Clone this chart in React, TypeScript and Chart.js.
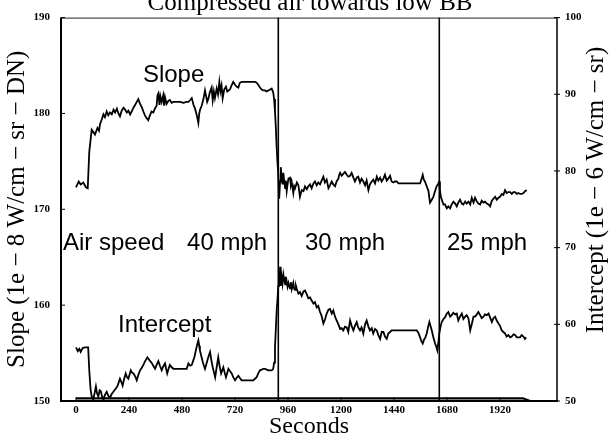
import React, { useEffect, useRef } from "react";
import { Chart, registerables } from "chart.js";

Chart.register(...registerables);

// ---------------- data ----------------
const slopeSeconds = [
  0, 12, 21, 33, 45, 53, 60, 71, 80, 86, 97, 104, 109, 117, 124, 131, 139, 146, 154, 162,
  170, 177, 185, 192, 199, 207, 215, 222, 230, 237, 245, 252, 260, 268, 275, 282, 290, 297, 305, 312,
  320, 327, 335, 342, 350, 357, 365, 369, 373, 378, 382, 388, 395, 399, 403, 410, 418, 425, 433, 441,
  456, 471, 486, 501, 509, 517, 524, 532, 539, 547, 554, 558, 562, 569, 577, 584, 590, 594, 599, 606,
  614, 619, 624, 629, 637, 643, 649, 654, 659, 664, 671, 679, 685, 691, 697, 704, 712, 720, 727, 735,
  742, 750, 765, 780, 795, 810, 818, 825, 833, 841, 848, 856, 863, 871, 879, 886, 893, 897, 901, 905,
  908, 912, 916, 920, 924, 927, 931, 935, 939, 943, 947, 950, 954, 958, 962, 969, 973, 977, 984, 988,
  992, 1000, 1007, 1014, 1022, 1030, 1037, 1045, 1052, 1060, 1067, 1075, 1082, 1090, 1097, 1105, 1112, 1120, 1127, 1135,
  1143, 1150, 1158, 1165, 1173, 1180, 1188, 1192, 1196, 1203, 1210, 1218, 1226, 1233, 1241, 1248, 1256, 1263, 1271, 1278,
  1286, 1293, 1301, 1309, 1316, 1324, 1331, 1339, 1346, 1354, 1362, 1369, 1377, 1384, 1392, 1399, 1407, 1414, 1422, 1429,
  1437, 1444, 1452, 1460, 1475, 1490, 1505, 1520, 1535, 1550, 1558, 1565, 1570, 1575, 1580, 1588, 1596, 1600, 1603, 1611,
  1618, 1626, 1633, 1641, 1645, 1648, 1652, 1658, 1664, 1671, 1679, 1686, 1694, 1701, 1709, 1717, 1724, 1731, 1739, 1747,
  1754, 1762, 1769, 1777, 1785, 1792, 1800, 1807, 1815, 1822, 1830, 1837, 1845, 1852, 1860, 1868, 1875, 1883, 1890, 1898,
  1905, 1913, 1920, 1928, 1935, 1943, 1950, 1958, 1966, 1973, 1981, 1988, 1996, 2003, 2011, 2018, 2026, 2033, 2041,
];
const slopeValues = [
  172.3, 172.9, 172.6, 172.8, 172.3, 172.2, 176.0, 178.3, 178.0, 177.8, 178.5, 178.2, 178.9, 179.4, 179.9, 179.6, 180.2, 179.8, 180.1, 179.9,
  180.4, 180.1, 180.5, 180.0, 179.7, 180.3, 180.6, 180.4, 180.1, 180.3, 179.9, 180.2, 180.6, 180.9, 181.2, 181.5, 181.0, 180.7, 180.2, 179.8,
  179.5, 179.3, 179.8, 180.2, 180.1, 180.5, 180.8, 181.9, 182.1, 180.9, 181.8, 181.2, 181.9, 180.8, 181.7, 181.0, 181.3, 181.4, 181.1, 181.2,
  181.2, 181.2, 181.1, 181.2, 181.2, 181.4, 181.6, 180.9, 180.5, 179.8, 179.0, 180.0, 180.4, 180.8, 181.5, 182.4, 181.7, 181.2, 181.5, 182.2,
  182.7, 181.4, 182.3, 181.6, 182.6, 182.0, 183.3, 182.3, 182.9, 181.6, 182.5, 182.8, 182.3, 182.4, 182.5, 182.9, 183.3, 183.0, 182.8, 182.7,
  183.2, 183.3, 183.3, 183.3, 183.3, 183.3, 183.2, 183.0, 182.7, 182.5, 182.4, 182.4, 182.3, 182.4, 182.5, 182.6, 182.2, 181.5, 180.2, 178.5,
  176.7, 175.0, 173.6, 171.1, 172.9, 174.4, 173.5, 172.6, 173.8, 172.8, 172.2, 173.0, 171.9, 172.6, 173.2, 173.3, 172.5, 172.8, 171.7, 172.4,
  172.2, 172.8, 172.5, 171.3, 172.0, 171.9, 172.4, 172.1, 172.4, 172.6, 172.2, 172.7, 172.9, 172.5, 172.8, 172.6, 173.0, 173.4, 172.8, 173.1,
  172.2, 172.5, 172.9, 172.6, 172.4, 172.9, 173.2, 173.6, 173.8, 173.5, 173.7, 173.9, 173.6, 173.4, 173.5, 173.8, 173.3, 172.9, 173.3, 173.4,
  172.8, 173.2, 172.9, 172.5, 173.0, 172.0, 172.6, 172.9, 173.1, 172.7, 173.4, 173.0, 173.3, 172.9, 173.2, 173.6, 173.0, 173.2, 173.5, 172.9,
  172.8, 172.9, 172.9, 172.7, 172.7, 172.7, 172.7, 172.7, 172.7, 172.7, 172.7, 173.2, 173.6, 173.1, 172.9, 172.4, 171.9, 171.2, 170.7, 171.0,
  171.3, 171.9, 172.4, 172.7, 172.9, 172.0, 171.3, 170.9, 170.5, 170.5, 170.1, 170.3, 170.1, 170.5, 170.8, 170.6, 170.3, 170.7, 171.0, 170.6,
  170.5, 170.8, 170.6, 170.8, 170.5, 171.2, 170.7, 171.2, 170.8, 170.6, 170.5, 170.9, 170.7, 170.8, 170.6, 170.5, 170.3, 170.9, 171.1, 171.3,
  171.0, 171.2, 171.3, 171.6, 171.5, 172.0, 171.7, 171.8, 171.8, 171.6, 171.8, 171.8, 171.6, 171.7, 171.6, 171.6, 171.7, 171.9, 172.0,
];

const interceptSeconds = [
  0, 8, 15, 21, 30, 40, 48, 55, 60, 66, 71, 78, 84, 90, 95, 101, 107, 112, 118, 124,
  131, 139, 146, 154, 161, 169, 177, 187, 193, 199, 205, 211, 218, 225, 231, 237, 243, 248, 254, 260,
  268, 275, 282, 290, 297, 305, 313, 323, 333, 342, 350, 358, 365, 373, 380, 388, 395, 403, 408, 413,
  419, 425, 433, 441, 456, 471, 486, 501, 509, 517, 524, 530, 536, 541, 546, 550, 554, 558, 561, 567,
  573, 579, 584, 590, 596, 601, 607, 613, 619, 625, 630, 637, 644, 650, 657, 662, 667, 673, 679, 685,
  690, 697, 705, 712, 720, 727, 735, 742, 750, 765, 780, 795, 803, 810, 818, 825, 833, 841, 848, 856,
  863, 871, 879, 886, 893, 897, 901, 905, 909, 912, 916, 919, 922, 924, 927, 931, 935, 939, 943, 947,
  950, 954, 958, 962, 969, 973, 977, 984, 988, 992, 996, 1000, 1007, 1014, 1022, 1030, 1037, 1045, 1052, 1060,
  1067, 1075, 1082, 1090, 1097, 1105, 1112, 1120, 1127, 1135, 1143, 1150, 1158, 1165, 1173, 1180, 1188, 1196, 1203, 1210,
  1218, 1226, 1233, 1241, 1248, 1256, 1263, 1271, 1278, 1286, 1293, 1301, 1309, 1316, 1324, 1331, 1339, 1346, 1354, 1362,
  1369, 1377, 1384, 1392, 1399, 1407, 1414, 1422, 1429, 1437, 1452, 1467, 1482, 1498, 1513, 1528, 1543, 1550, 1558, 1564,
  1570, 1576, 1582, 1588, 1594, 1600, 1605, 1611, 1618, 1626, 1631, 1636, 1641, 1645, 1650, 1656, 1664, 1671, 1679, 1686,
  1694, 1701, 1709, 1717, 1724, 1731, 1739, 1747, 1754, 1762, 1769, 1777, 1785, 1792, 1800, 1807, 1815, 1822, 1830, 1837,
  1845, 1852, 1860, 1868, 1875, 1883, 1890, 1898, 1905, 1913, 1920, 1928, 1935, 1943, 1950, 1958, 1966, 1973, 1981, 1988,
  1996, 2003, 2011, 2018, 2026, 2033, 2038,
];
const interceptValues = [
  57.0, 56.5, 56.8, 56.4, 56.9, 57.0, 57.0, 57.0, 54.0, 51.5, 50.6, 50.2, 51.0, 51.9, 51.0, 50.6, 51.4, 51.3, 50.6, 50.2,
  50.8, 51.2, 50.7, 50.4, 50.9, 51.2, 51.5, 51.9, 52.4, 52.9, 52.5, 52.0, 52.9, 53.6, 53.1, 52.9, 53.5, 54.0, 53.7, 53.6,
  53.2, 52.7, 53.4, 54.0, 54.3, 54.7, 55.2, 55.7, 55.3, 55.0, 54.6, 54.2, 54.7, 55.2, 54.6, 54.0, 54.5, 54.9, 54.2, 53.6,
  54.2, 54.7, 54.4, 54.2, 54.2, 54.2, 54.2, 54.2, 54.9, 54.6, 54.7, 55.2, 55.7, 56.4, 57.0, 57.5, 57.9, 57.2, 56.6, 55.9,
  55.2, 54.6, 54.2, 54.8, 55.4, 55.9, 56.4, 55.3, 54.4, 53.7, 53.1, 54.4, 55.7, 54.6, 53.6, 54.0, 54.4, 53.7, 53.1, 53.7,
  54.2, 53.9, 53.6, 53.1, 52.7, 53.0, 53.3, 53.0, 52.7, 52.7, 52.7, 52.7, 52.7, 52.9, 53.1, 53.6, 54.0, 54.1, 54.2, 54.2,
  54.1, 54.0, 54.0, 54.0, 54.2, 55.0, 57.0, 59.5, 62.0, 63.1, 65.0, 66.3, 65.4, 67.5, 65.0, 66.2, 65.3, 66.5, 65.8, 65.2,
  66.2, 65.6, 64.9, 65.4, 64.7, 65.5, 64.6, 65.4, 64.6, 64.5, 65.0, 64.6, 64.0, 64.2, 63.7, 64.3, 64.4, 63.9, 63.4, 63.5,
  63.1, 62.7, 62.9, 62.2, 62.4, 61.6, 61.1, 60.1, 60.6, 61.4, 61.9, 62.0, 61.4, 61.8, 61.0, 60.5, 60.0, 59.4, 59.5, 59.2,
  59.7, 59.6, 59.0, 60.5, 59.8, 59.2, 59.8, 60.3, 59.6, 59.2, 59.6, 58.8, 60.0, 60.5, 59.7, 59.2, 59.5, 58.8, 59.4, 59.2,
  58.6, 58.1, 59.0, 59.0, 58.4, 58.1, 58.8, 59.0, 59.2, 59.2, 59.2, 59.2, 59.2, 59.2, 59.2, 59.2, 59.2, 58.9, 58.3, 57.8,
  57.5, 58.0, 58.3, 58.8, 59.6, 60.3, 59.8, 59.2, 58.3, 57.5, 57.1, 56.6, 57.7, 58.8, 59.6, 60.3, 60.7, 60.9, 61.4, 61.6,
  61.0, 61.2, 61.5, 61.3, 61.4, 60.5, 61.0, 61.4, 60.7, 61.0, 61.2, 60.8, 59.2, 60.0, 61.0, 61.0, 61.3, 61.6, 61.2, 60.8,
  61.0, 61.3, 61.2, 61.4, 60.9, 60.3, 60.8, 61.0, 60.5, 60.1, 59.8, 59.2, 59.0, 58.8, 58.4, 58.6, 58.3, 58.4, 58.7, 58.6,
  58.3, 58.3, 58.3, 58.6, 58.4, 58.1, 58.3,
];

const baselineSeconds = [0, 2024, 2056];
const baselineValues = [50.35, 50.35, 50.0];

const speedChangeSeconds = [916, 1645];

const xTickValues = [0, 240, 480, 720, 960, 1200, 1440, 1680, 1920];
const slopeTickValues = [150, 160, 170, 180, 190];
const interceptTickValues = [50, 60, 70, 80, 90, 100];

const chartTitle = "Compressed air towards low BB";
const xTitle = "Seconds";
const slopeTitle = "Slope (1e \u2212 8 W/cm \u2212 sr \u2212 DN)";
const interceptTitle = "Intercept (1e \u2212 6 W/cm \u2212 sr)";

// annotation labels in data coordinates (x seconds, y on slope axis, baseline)
const labelTexts = ["Slope", "Intercept", "Air speed", "40 mph", "30 mph", "25 mph"];
const labelSeconds = [303, 190, -59, 503, 1037, 1680];
const labelSlopeLevels = [183.3, 157.2, 165.75, 165.75, 165.75, 165.75];

const SERIF = "'Liberation Serif', 'Times New Roman', serif";
const SANS = "'Liberation Sans', Arial, sans-serif";

const decorPlugin = {
  id: "decor",
  afterDatasetsDraw(chart: any) {
    const { ctx, chartArea, scales } = chart;
    const xs = scales.x;
    const yl = scales.y;
    const yr = scales.y2;
    const { left, right, top, bottom } = chartArea;
    ctx.save();
    ctx.strokeStyle = "#000";
    ctx.lineCap = "butt";

    // speed change lines
    ctx.lineWidth = 1.6;
    speedChangeSeconds.forEach((s) => {
      const px = xs.getPixelForValue(s);
      ctx.beginPath();
      ctx.moveTo(px, top);
      ctx.lineTo(px, bottom);
      ctx.stroke();
    });

    // frame
    ctx.lineWidth = 1;
    ctx.strokeStyle = "#222";
    ctx.beginPath();
    ctx.moveTo(left, top + 0.5);
    ctx.lineTo(right, top + 0.5);
    ctx.stroke();
    ctx.strokeStyle = "#000";
    ctx.lineWidth = 2;
    ctx.beginPath();
    ctx.moveTo(left, top);
    ctx.lineTo(left, bottom + 1);
    ctx.stroke();
    ctx.lineWidth = 1.5;
    ctx.beginPath();
    ctx.moveTo(right, top);
    ctx.lineTo(right, bottom + 1);
    ctx.stroke();
    ctx.lineWidth = 1.8;
    ctx.beginPath();
    ctx.moveTo(left - 1, bottom);
    ctx.lineTo(right + 1, bottom);
    ctx.stroke();

    // inward tick marks
    ctx.lineWidth = 1;
    xTickValues.forEach((v) => {
      const px = xs.getPixelForValue(v);
      ctx.beginPath();
      ctx.moveTo(px, bottom);
      ctx.lineTo(px, bottom - 4);
      ctx.stroke();
    });
    slopeTickValues.forEach((v) => {
      const py = yl.getPixelForValue(v);
      ctx.beginPath();
      ctx.moveTo(left, py);
      ctx.lineTo(left + 4, py);
      ctx.stroke();
    });
    interceptTickValues.forEach((v) => {
      const py = yr.getPixelForValue(v);
      ctx.beginPath();
      ctx.moveTo(right - 3, py);
      ctx.lineTo(right + 3, py);
      ctx.stroke();
    });

    // annotations
    ctx.fillStyle = "#000";
    ctx.font = `24px ${SANS}`;
    ctx.textAlign = "left";
    ctx.textBaseline = "alphabetic";
    labelTexts.forEach((t, i) => {
      ctx.fillText(t, xs.getPixelForValue(labelSeconds[i]), yl.getPixelForValue(labelSlopeLevels[i]));
    });

    // chart title (partly cut at top)
    ctx.font = `25px ${SERIF}`;
    ctx.textAlign = "center";
    ctx.fillText(chartTitle, (left + right) / 2 + 1, 10);

    // right axis title, reading bottom-to-top
    ctx.save();
    ctx.translate(596, 190);
    ctx.rotate(-Math.PI / 2);
    ctx.textBaseline = "middle";
    ctx.font = `25px ${SERIF}`;
    ctx.fillText(interceptTitle, 0, 0);
    ctx.restore();

    ctx.restore();
  },
};

export default function App() {
  const canvasRef = useRef<HTMLCanvasElement | null>(null);

  useEffect(() => {
    const canvas = canvasRef.current;
    if (!canvas) return;
    const tickFont = { family: SERIF, size: 11, weight: "bold" as const };
    const chart = new Chart(canvas, {
      type: "line",
      data: {
        datasets: [
          {
            label: "Slope",
            data: slopeSeconds.map((s, i) => ({ x: s, y: slopeValues[i] })),
            yAxisID: "y",
            borderColor: "#000",
            borderWidth: 1.8,
            pointRadius: 0,
            tension: 0,
          },
          {
            label: "Intercept",
            data: interceptSeconds.map((s, i) => ({ x: s, y: interceptValues[i] })),
            yAxisID: "y2",
            borderColor: "#000",
            borderWidth: 1.8,
            pointRadius: 0,
            tension: 0,
          },
          {
            label: "Baseline",
            data: baselineSeconds.map((s, i) => ({ x: s, y: baselineValues[i] })),
            yAxisID: "y2",
            borderColor: "#000",
            borderWidth: 2.2,
            pointRadius: 0,
            tension: 0,
          },
        ],
      },
      options: {
        responsive: false,
        animation: false,
        devicePixelRatio: 1,
        layout: { padding: { top: 15, left: 0, right: 0, bottom: 0 } },
        plugins: { legend: { display: false }, tooltip: { enabled: false }, title: { display: false } },
        scales: {
          x: {
            type: "linear",
            position: "bottom",
            min: -68,
            max: 2178,
            grid: { display: false, drawTicks: false },
            border: { display: false },
            afterBuildTicks: (scale: any) => {
              scale.ticks = xTickValues.map((v) => ({ value: v }));
            },
            afterFit: (scale: any) => {
              scale.height = 40;
            },
            ticks: {
              font: tickFont,
              color: "#000",
              padding: 3,
              maxRotation: 0,
              autoSkip: false,
              callback: (v: any) => String(v),
            },
            title: {
              display: true,
              text: xTitle,
              color: "#000",
              font: { family: SERIF, size: 24 },
              padding: { top: 0, bottom: 0 },
            },
          },
          y: {
            type: "linear",
            position: "left",
            min: 150,
            max: 190,
            grid: { display: false, drawTicks: false },
            border: { display: false },
            afterBuildTicks: (scale: any) => {
              scale.ticks = slopeTickValues.map((v) => ({ value: v }));
            },
            afterFit: (scale: any) => {
              scale.width = 61;
            },
            ticks: { font: tickFont, color: "#000", padding: 11, callback: (v: any) => String(v) },
            title: {
              display: true,
              text: slopeTitle,
              color: "#000",
              font: { family: SERIF, size: 25 },
              padding: { top: 2, bottom: 0 },
            },
          },
          y2: {
            type: "linear",
            position: "right",
            min: 50,
            max: 100,
            grid: { display: false, drawTicks: false },
            border: { display: false },
            afterBuildTicks: (scale: any) => {
              scale.ticks = interceptTickValues.map((v) => ({ value: v }));
            },
            afterFit: (scale: any) => {
              scale.width = 54;
            },
            ticks: { font: tickFont, color: "#000", padding: 8, callback: (v: any) => String(v) },
          },
        },
      },
      plugins: [decorPlugin],
    });
    return () => chart.destroy();
  }, []);

  return (
    <div style={{ position: "absolute", left: 0, top: 0, width: 611, height: 441, background: "#fff" }}>
      <canvas ref={canvasRef} width={611} height={441} style={{ display: "block" }} />
    </div>
  );
}
